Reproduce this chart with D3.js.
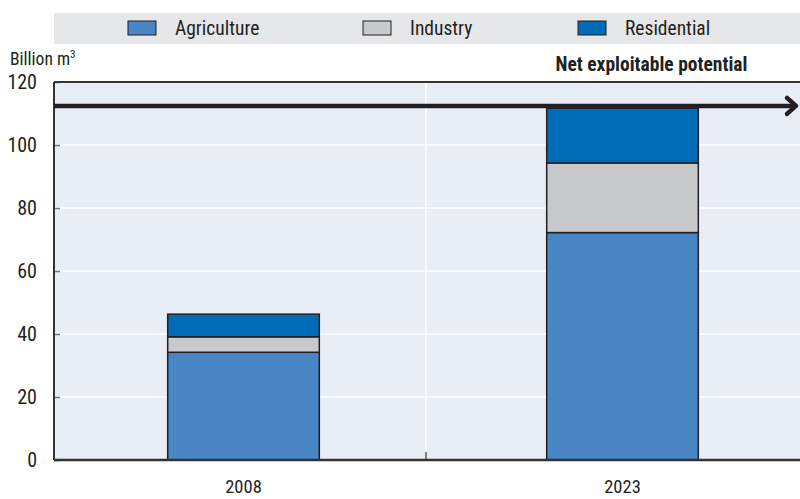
<!DOCTYPE html>
<html>
<head>
<meta charset="utf-8">
<script src="https://cdn.jsdelivr.net/npm/d3@7"></script>
<style>
  body { margin: 0; background: #fff; }
  svg text { font-family: "Liberation Sans Narrow", "Arial Narrow", "Roboto Condensed", sans-serif; fill: #231f20; }
</style>
</head>
<body>
<div id="graf"></div>
<script>
// Datos
const years = ["2008", "2023"]
const sectors = ["Agriculture", "Industry", "Residential"]
const agriculture = [34.2, 72.2]
const industry = [4.9, 22.1]
const residential = [7.2, 17.4]
const netPotential = 112.4
const yTicks = [0, 20, 40, 60, 80, 100, 120]
const colors = ["#4a86c5", "#c8c9cb", "#006bb6"]

const draw = () => {
  const anchoTotal = 800
  const altoTotal = 499
  const margins = { top: 82, right: 2, bottom: 39, left: 54 }
  const alto = altoTotal - margins.top - margins.bottom
  const ancho = anchoTotal - margins.left - margins.right

  const rows = years.map((y, i) => ({
    year: y,
    Agriculture: agriculture[i],
    Industry: industry[i],
    Residential: residential[i]
  }))
  const series = d3.stack().keys(sectors)(rows)

  // Escaladores
  const x = d3.scaleBand().domain(years).range([0, ancho + 14])
  const y = d3.scaleLinear().domain([0, 120]).range([alto, 0])
  const color = d3.scaleOrdinal().domain(sectors).range(colors)

  const svg = d3.select("#graf")
    .append("svg")
    .attr("width", anchoTotal)
    .attr("height", altoTotal)

  // Leyenda
  svg.append("rect")
    .attr("x", margins.left).attr("y", 13)
    .attr("width", anchoTotal - margins.left).attr("height", 31)
    .attr("fill", "#e6e7e9")

  const legX = [128, 363, 578]
  const leg = svg.selectAll(".leg")
    .data(sectors)
    .join("g")
    .attr("class", "leg")
    .attr("transform", (d, i) => `translate(${legX[i]}, 21)`)
  leg.append("rect")
    .attr("width", 28).attr("height", 14)
    .attr("fill", (d) => color(d))
    .attr("stroke", "#231f20").attr("stroke-width", 1)
  leg.append("text")
    .attr("x", 47).attr("y", 14)
    .style("font-size", "19.5px")
    .text((d) => d)

  svg.append("text")
    .attr("x", 10).attr("y", 65)
    .style("font-size", "17.5px")
    .html('Billion m<tspan dy="-7" style="font-size:11px">3</tspan>')

  const chart = svg.append("g")
    .attr("transform", `translate(${margins.left}, ${margins.top})`)

  svg.append("clipPath").attr("id", "clip")
    .append("rect").attr("width", ancho).attr("height", alto + 1)

  chart.append("rect")
    .attr("width", ancho + margins.right)
    .attr("height", alto)
    .attr("fill", "#e9edf6")

  // Rejilla
  chart.selectAll(".grid")
    .data(yTicks.slice(1, -1))
    .join("line")
    .attr("x1", 0).attr("x2", ancho + margins.right)
    .attr("y1", (d) => y(d)).attr("y2", (d) => y(d))
    .attr("stroke", "#fff").attr("stroke-width", 1.5)

  const divX = ancho / 2
  chart.append("line")
    .attr("x1", divX).attr("x2", divX)
    .attr("y1", 0).attr("y2", alto)
    .attr("stroke", "#fff").attr("stroke-width", 1.5)
  chart.append("line")
    .attr("x1", divX).attr("x2", divX)
    .attr("y1", alto - 8).attr("y2", alto)
    .attr("stroke", "#555").attr("stroke-width", 1.5)

  // Barras
  const barW = x.bandwidth() * 0.4
  chart.append("g")
    .attr("clip-path", "url(#clip)")
    .selectAll("g")
    .data(series)
    .join("g")
    .attr("fill", (d) => color(d.key))
    .selectAll("rect")
    .data((d) => d)
    .join("rect")
    .attr("x", (d) => x(d.data.year) + (x.bandwidth() - barW) / 2)
    .attr("y", (d) => y(d[1]))
    .attr("width", barW)
    .attr("height", (d) => y(d[0]) - y(d[1]))
    .attr("stroke", "#231f20")
    .attr("stroke-width", 1.5)

  // Ejes
  const yAxis = d3.axisLeft(y).tickValues(yTicks).tickSize(-6).tickPadding(17)
  const yAxisGroup = chart.append("g").call(yAxis)
  yAxisGroup.select(".domain").remove()
  yAxisGroup.selectAll(".tick line").attr("stroke", "#777").attr("stroke-width", 1.5)
  yAxisGroup.selectAll(".tick text")
    .style("font-size", "20px")
    .attr("fill", "#231f20")
    .attr("font-family", null)

  chart.append("line")
    .attr("x1", 0).attr("x2", 0).attr("y1", 0).attr("y2", alto)
    .attr("stroke", "#333").attr("stroke-width", 2)
  chart.append("line")
    .attr("x1", 0).attr("x2", ancho + margins.right).attr("y1", 0).attr("y2", 0)
    .attr("stroke", "#333").attr("stroke-width", 2)
  chart.append("line")
    .attr("x1", 0).attr("x2", ancho + margins.right).attr("y1", alto).attr("y2", alto)
    .attr("stroke", "#333").attr("stroke-width", 2.5)

  chart.selectAll(".xlab")
    .data(years)
    .join("text")
    .attr("x", (d) => x(d) + x.bandwidth() / 2)
    .attr("y", alto + 33)
    .attr("text-anchor", "middle")
    .style("font-size", "18.5px")
    .text((d) => d)

  // Potencial neto
  const yp = y(netPotential)
  chart.append("line")
    .attr("x1", 0).attr("x2", ancho - 2)
    .attr("y1", yp).attr("y2", yp)
    .attr("stroke", "#231f20").attr("stroke-width", 4.5)
  chart.append("path")
    .attr("d", `M${ancho - 11},${yp - 8} L${ancho - 2},${yp} L${ancho - 11},${yp + 8}`)
    .attr("fill", "none")
    .attr("stroke", "#231f20").attr("stroke-width", 4.5)
    .attr("stroke-linecap", "round").attr("stroke-linejoin", "round")
  chart.append("text")
    .attr("x", x("2023") + x.bandwidth() / 2 + 29)
    .attr("y", -11)
    .attr("text-anchor", "middle")
    .style("font-size", "19.5px")
    .style("font-weight", "bold")
    .text("Net exploitable potential")
}

draw()
</script>
</body>
</html>
